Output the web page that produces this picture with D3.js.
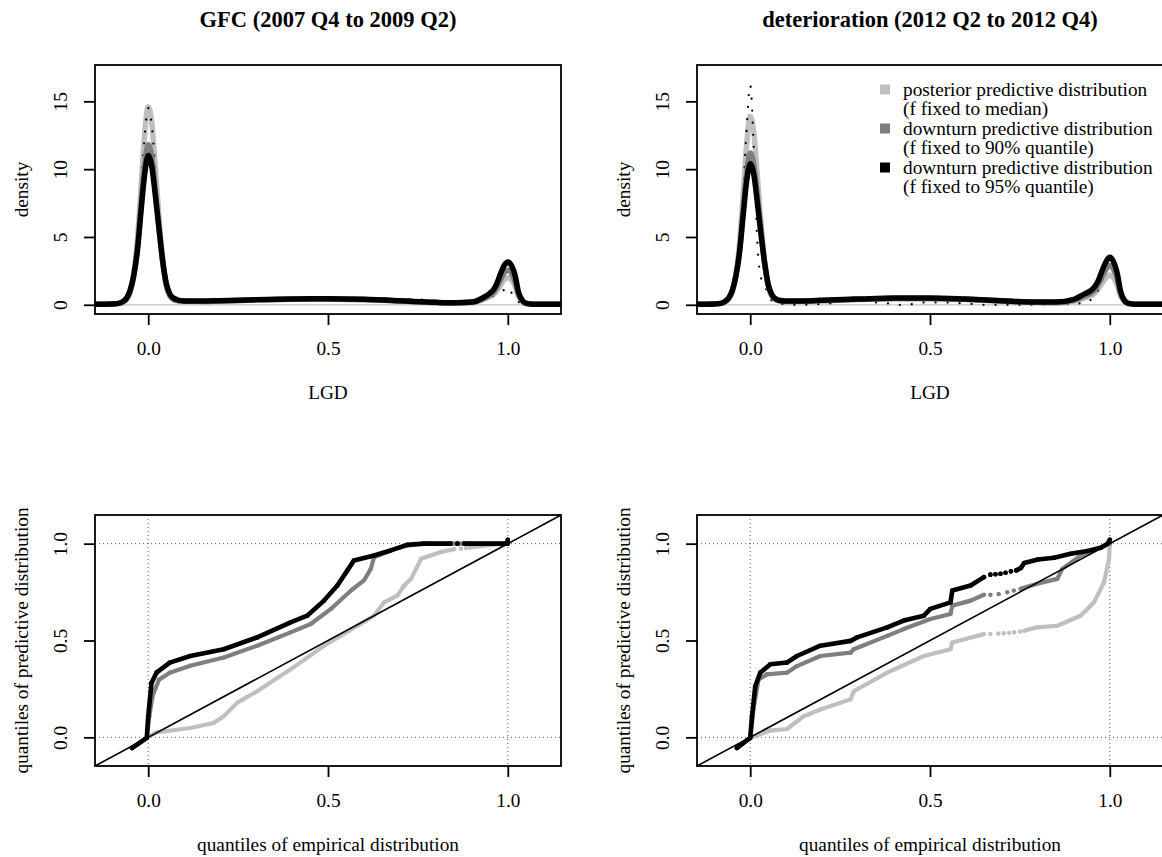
<!DOCTYPE html>
<html>
<head>
<meta charset="utf-8">
<script src="https://cdn.jsdelivr.net/npm/d3@7"></script>
<style>
  body { margin: 0; background: #fff; }
  svg { display: block; font-family: "Liberation Serif", "Times New Roman", serif; }
  svg text { font-family: "Liberation Serif", "Times New Roman", serif; }
</style>
</head>
<body>
<svg id="chart" width="1162" height="857"></svg>
<script>
// data

// common LGD grid for the three model densities (top panels)
var lgdGrid = [-0.15, -0.1, -0.08, -0.07, -0.06, -0.05, -0.04, -0.03, -0.02, -0.01,
  0, 0.01, 0.02, 0.03, 0.04, 0.05, 0.06, 0.07, 0.08,
  0.1, 0.15, 0.2, 0.3, 0.4, 0.5, 0.6, 0.7, 0.8, 0.85,
  0.9, 0.93, 0.95, 0.96, 0.97, 0.98, 0.99,
  1.0, 1.01, 1.02, 1.03, 1.04, 1.05, 1.07, 1.1, 1.15];

// GFC (2007 Q4 to 2009 Q2)
var gfcMedian = [0.03, 0.05, 0.1, 0.18, 0.4, 0.95, 2.3, 4.8, 8.6, 12.6,
  14.6, 13.4, 10.0, 6.4, 3.4, 1.5, 0.65, 0.38, 0.3,
  0.24, 0.23, 0.27, 0.35, 0.4, 0.41, 0.37, 0.27, 0.15, 0.12,
  0.16, 0.36, 0.6, 0.75, 1.05, 1.45, 1.85,
  2.0, 1.85, 1.4, 0.6, 0.25, 0.08, 0.04, 0.03, 0.03];
var gfcQ90 = [0.03, 0.05, 0.1, 0.2, 0.45, 1.0, 2.2, 4.2, 7.3, 10.3,
  11.8, 10.9, 8.4, 5.7, 3.2, 1.5, 0.7, 0.42, 0.32,
  0.26, 0.25, 0.28, 0.36, 0.41, 0.42, 0.38, 0.28, 0.16, 0.13,
  0.18, 0.42, 0.7, 0.9, 1.3, 1.85, 2.35,
  2.55, 2.35, 1.75, 0.75, 0.3, 0.1, 0.04, 0.03, 0.03];
var gfcQ95 = [0.03, 0.06, 0.12, 0.25, 0.5, 1.1, 2.2, 4.0, 6.9, 9.6,
  11.0, 10.2, 8.0, 5.6, 3.3, 1.6, 0.8, 0.5, 0.37,
  0.28, 0.27, 0.3, 0.38, 0.43, 0.44, 0.4, 0.3, 0.18, 0.15,
  0.2, 0.5, 0.85, 1.1, 1.6, 2.3, 2.9,
  3.15, 2.9, 2.2, 0.9, 0.35, 0.12, 0.04, 0.03, 0.03];
var gfcEmpX = [-0.15, -0.08, -0.06, -0.05, -0.04, -0.03, -0.02, -0.01,
  0, 0.01, 0.02, 0.03, 0.04, 0.05, 0.06, 0.08,
  0.1, 0.2, 0.3, 0.4, 0.5, 0.6, 0.65, 0.7, 0.75, 0.8, 0.85, 0.9, 0.95,
  0.98, 0.99, 1.0, 1.01, 1.02, 1.03, 1.05, 1.1, 1.15];
var gfcEmpY = [0, 0.05, 0.3, 0.9, 2.2, 4.7, 8.5, 12.4,
  14.5, 13.2, 9.8, 6.2, 3.3, 1.4, 0.6, 0.25,
  0.2, 0.25, 0.35, 0.4, 0.38, 0.42, 0.5, 0.42, 0.4, 0.3, 0.2, 0.3, 0.6,
  0.9, 1.1, 1.3, 0.9, 0.5, 0.2, 0.05, 0, 0];

// deterioration (2012 Q2 to 2012 Q4)
var detMedian = [0.03, 0.05, 0.1, 0.2, 0.42, 0.95, 2.2, 4.4, 8.0, 11.8,
  13.9, 12.7, 9.4, 6.0, 3.2, 1.4, 0.65, 0.38, 0.29,
  0.23, 0.24, 0.29, 0.38, 0.45, 0.45, 0.38, 0.26, 0.16, 0.14,
  0.25, 0.5, 0.7, 0.9, 1.25, 1.65, 2.0,
  2.2, 2.0, 1.5, 0.65, 0.25, 0.08, 0.04, 0.03, 0.03];
var detQ90 = [0.03, 0.05, 0.1, 0.22, 0.46, 1.0, 2.1, 3.9, 6.8, 9.7,
  11.2, 10.3, 8.0, 5.4, 3.1, 1.45, 0.7, 0.42, 0.31,
  0.25, 0.26, 0.31, 0.4, 0.47, 0.47, 0.4, 0.28, 0.18, 0.17,
  0.33, 0.65, 0.9, 1.15, 1.6, 2.15, 2.65,
  2.9, 2.65, 2.0, 0.85, 0.3, 0.1, 0.04, 0.03, 0.03];
var detQ95 = [0.03, 0.06, 0.12, 0.25, 0.5, 1.05, 2.1, 3.8, 6.5, 9.1,
  10.4, 9.6, 7.5, 5.2, 3.1, 1.5, 0.75, 0.45, 0.33,
  0.27, 0.28, 0.33, 0.42, 0.5, 0.5, 0.42, 0.3, 0.2, 0.2,
  0.4, 0.8, 1.1, 1.4, 1.9, 2.6, 3.2,
  3.5, 3.2, 2.4, 1.0, 0.35, 0.12, 0.04, 0.03, 0.03];
var detEmpX = [-0.15, -0.08, -0.06, -0.05, -0.04, -0.03, -0.02, -0.01,
  0, 0.01, 0.02, 0.03, 0.04, 0.05, 0.06, 0.08,
  0.13, 0.23, 0.3, 0.33, 0.37, 0.4, 0.44, 0.47, 0.51, 0.54, 0.61, 0.65, 0.7, 0.75, 0.85, 0.93,
  0.97, 1.0, 1.02, 1.04, 1.1, 1.15];
var detEmpY = [0, 0.05, 0.4, 1.0, 2.0, 4.0, 8.0, 13.0,
  16.2, 11.5, 4.5, 2.0, 1.4, 0.8, 0.3, 0.1,
  0, 0.12, 0.57, 0.17, 0.17, 0, 0, 0.17, 0.17, 0.17, 0.07, 0, 0, 0, 0.05, 0.12,
  1.2, 3.0, 1.5, 0.2, 0, 0];

// quantile-quantile points [empirical, predictive], null = gap between dots
var qqGfcMedian = [[-0.045, -0.055], [-0.004, -0.003], [0.023, 0.026], [0.117, 0.048], [0.182, 0.074],
  [0.21, 0.109], [0.247, 0.178], [0.303, 0.238], [0.396, 0.351], [0.489, 0.473], [0.582, 0.577],
  [0.628, 0.628], [0.656, 0.697], [0.693, 0.732], [0.712, 0.784], [0.731, 0.818], [0.745, 0.87],
  [0.759, 0.922], [0.814, 0.957], [0.851, 0.971], null, [0.87, 0.974], null, [0.884, 0.977], null,
  [0.894, 0.98], [0.954, 0.994], [1.0, 1.0]];
var qqGfcQ90 = [[-0.045, -0.055], [-0.004, -0.003], [0.003, 0.109], [0.012, 0.213], [0.03, 0.298],
  [0.06, 0.334], [0.117, 0.37], [0.21, 0.412], [0.303, 0.473], [0.396, 0.542], [0.452, 0.585],
  [0.508, 0.663], [0.564, 0.758], [0.6, 0.81], [0.619, 0.87], [0.628, 0.93], [0.674, 0.965],
  [0.72, 0.99], [0.767, 1.0], [1.0, 1.0]];
var qqGfcQ95 = [[-0.045, -0.055], [-0.004, -0.003], [0.0, 0.109], [0.009, 0.28], [0.023, 0.334],
  [0.06, 0.386], [0.117, 0.42], [0.21, 0.455], [0.303, 0.516], [0.396, 0.594], [0.442, 0.628],
  [0.489, 0.706], [0.526, 0.784], [0.554, 0.862], [0.572, 0.913], [0.628, 0.939], [0.674, 0.965],
  [0.72, 0.994], [0.767, 1.0], [0.841, 1.0], null, [0.86, 1.0], null, [0.879, 1.0], [0.999, 1.0], [1.0, 1.02]];

var qqDetMedian = [[-0.037, -0.055], [0.0, -0.003], [0.056, 0.035], [0.102, 0.043], [0.149, 0.109],
  [0.195, 0.144], [0.279, 0.196], [0.288, 0.238], [0.381, 0.334], [0.483, 0.42], [0.557, 0.455],
  [0.562, 0.49], [0.65, 0.533], null, [0.668, 0.533], null, [0.69, 0.535], null, [0.705, 0.537], null,
  [0.72, 0.54], null, [0.734, 0.542], null, [0.75, 0.546], null, [0.762, 0.55], [0.798, 0.568],
  [0.854, 0.576], [0.919, 0.628], [0.956, 0.697], [0.984, 0.801], [0.998, 0.922], [1.0, 1.0]];
var qqDetQ90 = [[-0.037, -0.055], [0.0, -0.003], [0.009, 0.144], [0.023, 0.298], [0.046, 0.325],
  [0.102, 0.334], [0.13, 0.368], [0.195, 0.42], [0.279, 0.437], [0.288, 0.455], [0.381, 0.524],
  [0.427, 0.559], [0.501, 0.611], [0.557, 0.637], [0.562, 0.68], [0.613, 0.706], [0.65, 0.736], null,
  [0.668, 0.736], null, [0.691, 0.739], null, [0.715, 0.749], null, [0.733, 0.758], null,
  [0.752, 0.767], [0.798, 0.793], [0.854, 0.818], [0.868, 0.87], [0.919, 0.939], [0.965, 0.974], [1.0, 1.0]];
var qqDetQ95 = [[-0.037, -0.055], [0.0, -0.003], [0.005, 0.109], [0.014, 0.264], [0.028, 0.334],
  [0.056, 0.377], [0.102, 0.386], [0.13, 0.42], [0.195, 0.473], [0.279, 0.498], [0.297, 0.516],
  [0.381, 0.568], [0.427, 0.603], [0.483, 0.628], [0.501, 0.663], [0.557, 0.697], [0.562, 0.758],
  [0.613, 0.784], [0.65, 0.827], null, [0.668, 0.84], null, [0.682, 0.842], null, [0.696, 0.845], null,
  [0.71, 0.85], null, [0.725, 0.857], null, [0.74, 0.862], [0.753, 0.875], [0.762, 0.9], [0.8, 0.918],
  [0.845, 0.927], [0.891, 0.948], [0.938, 0.962], [0.975, 0.979], [0.994, 1.0], [1.0, 1.02]];

var panelTitles = ["GFC (2007 Q4 to 2009 Q2)", "deterioration (2012 Q2 to 2012 Q4)"];
var legendLabels = [["posterior predictive distribution", "(f fixed to median)"],
  ["downturn predictive distribution", "(f fixed to 90% quantile)"],
  ["downturn predictive distribution", "(f fixed to 95% quantile)"]];
var xTicks = [0, 0.5, 1];
var densTicks = [0, 5, 10, 15];
var qqTicks = [0, 0.5, 1];

// colours: grey75, grey50, black
var colors = ["#bfbfbf", "#7f7f7f", "#000000"];
var fontSize = 19.3;
var serif = "Liberation Serif, Times New Roman, serif";

var svg = d3.select("#chart");

// R style limits: xlim c(-0.1,1.1), ylim with 4% padding
function rlim(a, b) {
  var d = (b - a) * 0.04;
  return [a - d, b + d];
}

// frame, ticks and labels of one panel
function makePanel(box, xDom, yDom, yTicks, yFormat, xlab, ylab, id) {
  var g = svg.append("g");
  var x = d3.scaleLinear().domain(xDom).range([box.left, box.right]);
  var y = d3.scaleLinear().domain(yDom).range([box.bottom, box.top]);

  g.append("clipPath").attr("id", id)
    .append("rect")
    .attr("x", box.left).attr("y", box.top)
    .attr("width", box.right - box.left).attr("height", box.bottom - box.top);

  var xAxis = g.append("g")
    .attr("transform", "translate(0," + box.bottom + ")")
    .call(d3.axisBottom(x).tickValues(xTicks).tickFormat(d3.format(".1f")).tickSize(11).tickPadding(16))
    .attr("font-family", serif)
    .attr("font-size", fontSize);
  xAxis.select(".domain").remove();
  xAxis.selectAll("line").attr("stroke-width", 1.8);
  xAxis.selectAll("text").attr("fill", "#000");

  var yAxis = g.append("g")
    .attr("transform", "translate(" + box.left + ",0)")
    .call(d3.axisLeft(y).tickValues(yTicks).tickFormat(yFormat).tickSize(11))
    .attr("font-family", serif)
    .attr("font-size", fontSize);
  yAxis.select(".domain").remove();
  yAxis.selectAll("line").attr("stroke-width", 1.8);
  yAxis.selectAll("text")
    .attr("fill", "#000")
    .attr("transform", "rotate(-90)")
    .attr("x", 0).attr("y", -28).attr("dy", null)
    .attr("text-anchor", "middle");

  g.append("text")
    .attr("x", (box.left + box.right) / 2).attr("y", box.bottom + 84.5)
    .attr("text-anchor", "middle").attr("font-size", fontSize)
    .text(xlab);
  g.append("text")
    .attr("transform", "translate(" + (box.left - 67) + "," + ((box.top + box.bottom) / 2) + ") rotate(-90)")
    .attr("text-anchor", "middle").attr("font-size", fontSize)
    .text(ylab);

  var plot = g.append("g").attr("clip-path", "url(#" + id + ")");
  g.append("rect")
    .attr("x", box.left).attr("y", box.top)
    .attr("width", box.right - box.left).attr("height", box.bottom - box.top)
    .attr("fill", "none").attr("stroke", "#000").attr("stroke-width", 1.8);

  return { g: g, plot: plot, x: x, y: y };
}

function densityPanel(box, title, series, empX, empY, id, withLegend) {
  var p = makePanel(box, rlim(-0.1, 1.1), rlim(0, 17), densTicks, d3.format("d"), "LGD", "density", id);

  svg.append("text")
    .attr("x", (box.left + box.right) / 2).attr("y", 27)
    .attr("text-anchor", "middle").attr("font-size", 22.5).attr("font-weight", "bold")
    .text(title);

  // grey zero line
  p.plot.append("line")
    .attr("x1", box.left).attr("x2", box.right)
    .attr("y1", p.y(0)).attr("y2", p.y(0))
    .attr("stroke", "#c4c4c4").attr("stroke-width", 1.2);

  var line = d3.line()
    .x(function(d) { return p.x(d[0]); })
    .y(function(d) { return p.y(d[1]); })
    .curve(d3.curveMonotoneX);

  var emp = empX.map(function(v, k) { return [v, empY[k]]; });

  series.forEach(function(vals, i) {
    var pts = lgdGrid.map(function(v, k) { return [v, vals[k]]; });
    p.plot.append("path")
      .attr("d", line(pts))
      .attr("fill", "none")
      .attr("stroke", colors[i])
      .attr("stroke-width", 5.5)
      .attr("stroke-linejoin", "round");
    // empirical density (dotted) sits above the light curve, under the darker ones
    if (i == 0) {
      p.plot.append("path")
        .attr("d", line(emp))
        .attr("fill", "none")
        .attr("stroke", "#000")
        .attr("stroke-width", 2.3)
        .attr("stroke-linecap", "round")
        .attr("stroke-dasharray", "0,12");
    }
  });

  if (withLegend) {
    var lg = svg.append("g").attr("font-size", fontSize);
    legendLabels.forEach(function(lab, i) {
      var yc = 89.5 + i * 39;
      lg.append("rect")
        .attr("x", 880).attr("y", yc - 5)
        .attr("width", 10).attr("height", 10)
        .attr("fill", colors[i]);
      lg.append("text").attr("x", 903).attr("y", yc + 6).text(lab[0]);
      lg.append("text").attr("x", 903).attr("y", yc + 25.5).text(lab[1]);
    });
  }
}

function qqPanel(box, series, id) {
  var dom = rlim(-0.1, 1.1);
  var p = makePanel(box, dom, dom, qqTicks, d3.format(".1f"),
    "quantiles of empirical distribution", "quantiles of predictive distribution", id);

  // dotted reference lines at 0 and 1
  [0, 1].forEach(function(v) {
    p.plot.append("line")
      .attr("x1", p.x(v)).attr("x2", p.x(v)).attr("y1", box.top).attr("y2", box.bottom)
      .attr("stroke", "#555").attr("stroke-width", 1).attr("stroke-dasharray", "1,3");
    p.plot.append("line")
      .attr("x1", box.left).attr("x2", box.right).attr("y1", p.y(v)).attr("y2", p.y(v))
      .attr("stroke", "#555").attr("stroke-width", 1).attr("stroke-dasharray", "1,3");
  });

  var line = d3.line()
    .defined(function(d) { return d !== null; })
    .x(function(d) { return p.x(d[0]); })
    .y(function(d) { return p.y(d[1]); });

  series.forEach(function(pts, i) {
    var w = i == 2 ? 4.6 : 4.2;
    p.plot.append("path")
      .attr("d", line(pts))
      .attr("fill", "none")
      .attr("stroke", colors[i])
      .attr("stroke-width", w)
      .attr("stroke-linejoin", "round")
      .attr("stroke-linecap", "round");
    p.plot.selectAll(null)
      .data(pts.filter(function(d) { return d !== null; }))
      .enter()
      .append("circle")
      .attr("cx", function(d) { return p.x(d[0]); })
      .attr("cy", function(d) { return p.y(d[1]); })
      .attr("r", w / 2)
      .attr("fill", colors[i]);
  });

  // 45 degree line
  p.plot.append("line")
    .attr("x1", p.x(dom[0])).attr("y1", p.y(dom[0]))
    .attr("x2", p.x(dom[1])).attr("y2", p.y(dom[1]))
    .attr("stroke", "#000").attr("stroke-width", 1.6);
}

var leftBox = { left: 95, right: 561 };
var rightBox = { left: 697, right: 1163 };

densityPanel({ left: leftBox.left, right: leftBox.right, top: 65, bottom: 314 },
  panelTitles[0], [gfcMedian, gfcQ90, gfcQ95], gfcEmpX, gfcEmpY, "clipA", false);
densityPanel({ left: rightBox.left, right: rightBox.right, top: 65, bottom: 314 },
  panelTitles[1], [detMedian, detQ90, detQ95], detEmpX, detEmpY, "clipB", true);
qqPanel({ left: leftBox.left, right: leftBox.right, top: 515, bottom: 766 },
  [qqGfcMedian, qqGfcQ90, qqGfcQ95], "clipC");
qqPanel({ left: rightBox.left, right: rightBox.right, top: 515, bottom: 766 },
  [qqDetMedian, qqDetQ90, qqDetQ95], "clipD");
</script>
</body>
</html>
